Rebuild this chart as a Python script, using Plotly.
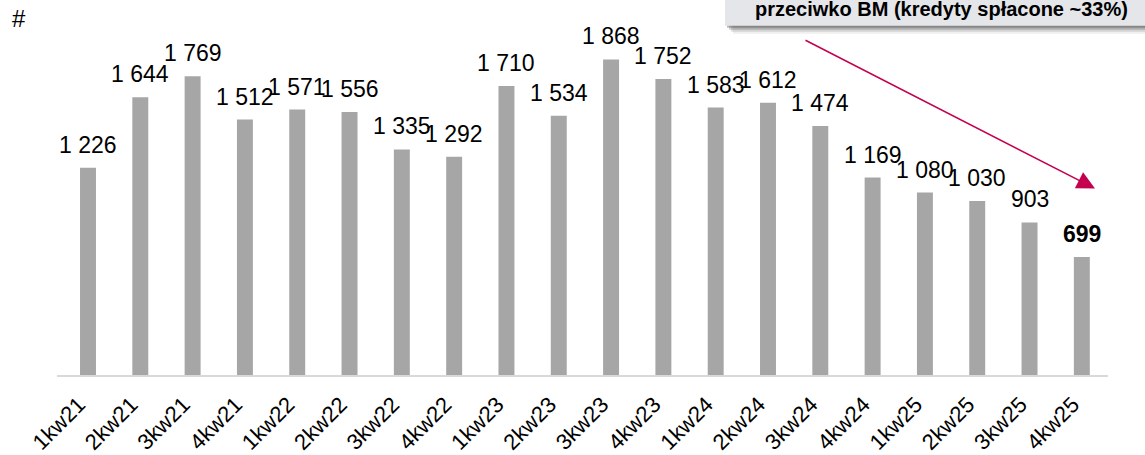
import plotly.graph_objects as go

categories = ["1kw21", "2kw21", "3kw21", "4kw21", "1kw22", "2kw22", "3kw22", "4kw22",
              "1kw23", "2kw23", "3kw23", "4kw23", "1kw24", "2kw24", "3kw24", "4kw24",
              "1kw25", "2kw25", "3kw25", "4kw25"]
values = [1226, 1644, 1769, 1512, 1571, 1556, 1335, 1292, 1710, 1534,
          1868, 1752, 1583, 1612, 1474, 1169, 1080, 1030, 903, 699]
box_text = "przeciwko BM (kredyty spłacone ~33%)"

W, H = 1145, 455
ML, MR, MT, MB = 57, 37, 0, 77
PW, PH = W - ML - MR, H - MT - MB

def px(xp):
    return (xp - ML) / PW

def py(yp):
    return (H - MB - yp) / PH

FONT = "Liberation Sans, Arial, sans-serif"
BAR = "#a6a6a6"
ACCENT = "#C4004F"

fig = go.Figure()
fig.add_trace(go.Bar(x=categories, y=values, marker=dict(color=BAR, line=dict(width=0)),
                     hoverinfo="x+y"))

annotations = []
for i, (c, v) in enumerate(zip(categories, values)):
    label = f"{v:,}".replace(",", " ")
    bold = i == len(values) - 1
    annotations.append(dict(x=c, y=v, xref="x", yref="y", text=f"<b>{label}</b>" if bold else label,
                            showarrow=False, yanchor="bottom", yshift=8,
                            font=dict(family=FONT, size=23, color="black")))

annotations.append(dict(x=px(19), y=py(19), xref="paper", yref="paper", text="#",
                        showarrow=False, xanchor="center", yanchor="middle",
                        font=dict(family=FONT, size=24, color="black")))

annotations.append(dict(x=px(941), y=py(22), xref="paper", yref="paper",
                        text=f"<b>{box_text}</b>", showarrow=False,
                        xanchor="center", yanchor="bottom",
                        font=dict(family=FONT, size=20, color="black")))

annotations.append(dict(x=px(1095), y=py(190), xref="paper", yref="paper",
                        ax=804 - 1095, ay=41 - 190, axref="pixel", ayref="pixel",
                        text="", showarrow=True, arrowhead=2, arrowsize=2.4, arrowwidth=1.5,
                        arrowcolor=ACCENT))

shapes = []
# shadow layers
for off, op in [(8, 0.08), (6, 0.14), (4, 0.22), (2, 0.32)]:
    shapes.append(dict(type="rect", xref="paper", yref="paper",
                       x0=px(725 + off), x1=px(1160), y0=py(26 + off), y1=py(-10),
                       fillcolor=f"rgba(50,50,50,{op})", line=dict(width=0), layer="above"))
shapes.append(dict(type="rect", xref="paper", yref="paper",
                   x0=px(725), x1=px(1160), y0=py(26), y1=py(-10),
                   fillcolor="#e4e6e9", line=dict(width=0), layer="above"))

fig.update_layout(
    width=W, height=H,
    margin=dict(l=ML, r=MR, t=MT, b=MB),
    paper_bgcolor="white", plot_bgcolor="white",
    bargap=0.695,
    showlegend=False,
    annotations=annotations,
    shapes=shapes,
    font=dict(family=FONT, color="black"),
    xaxis=dict(showline=True, linecolor="#d9d9d9", linewidth=2, tickangle=-45,
               tickfont=dict(family=FONT, size=22, color="black"),
               showgrid=False, zeroline=False, ticks="", ticklabelstandoff=6,
               ticklabelshift=-9),
    yaxis=dict(range=[0, PH / 0.1703], visible=False, showgrid=False, zeroline=False),
)

fig.write_html("out.html")
